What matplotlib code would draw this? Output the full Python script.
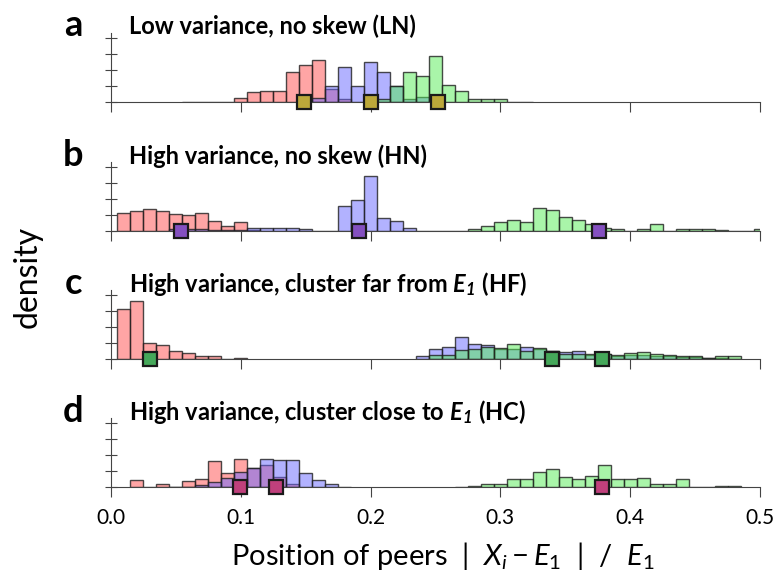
import numpy as np
import matplotlib
matplotlib.use("Agg")
import matplotlib.pyplot as plt

plt.rcParams['font.family'] = ['Lato', 'DejaVu Sans']
plt.rcParams['mathtext.fontset'] = 'custom'
plt.rcParams['mathtext.it'] = 'Lato:italic'
plt.rcParams['mathtext.bf'] = 'Lato:italic:bold'
plt.rcParams['mathtext.rm'] = 'Lato'

# ---- data (bin centres every 0.01, each series given from its first bin) ----
panel_letters = ["a", "b", "c", "d"]
panel_titles = ["Low variance, no skew (LN)",
                "High variance, no skew (HN)",
                "High variance, cluster far from $\\mathbf{E_1}$ (HF)",
                "High variance, cluster close to $\\mathbf{E_1}$ (HC)"]

a_red_start, a_red = 0.06, [0.03, 0, 0, 0, 0.25, 0.6, 0.7, 0.67, 1.9, 2.33, 2.6, 0.8, 0.2]
a_blue_start, a_blue = 0.15, [0.1, 0.25, 0.98, 2.19, 0.98, 2.48, 1.85, 1.0, 0.2, 0.3]
a_green_start, a_green = 0.20, [0.1, 0.2, 1.0, 1.85, 1.65, 2.85, 1.08, 0.7, 0.2, 0.2, 0.2, 0, 0.03]

b_red_start, b_red = 0.01, [1.12, 1.23, 1.35, 1.27, 1.08, 0.98, 1.12, 0.62, 0.3, 0.56, 0.05]
b_blue_start, b_blue = 0.05, [0.1, 0.15, 0.15, 0.05, 0.05, 0.05, 0.2, 0.2, 0.2, 0.2, 0.15, 0.03,
                              0.03, 1.54, 1.96, 3.44, 0.83, 0.62, 0.2, 0.03, 0.03, 0.03, 0.03]
b_green_start, b_green = 0.28, [0.1, 0.3, 0.58, 0.67, 0.58, 1.46, 1.33, 0.88, 0.67, 0.42, 0.2, 0.1,
                                0.03, 0.15, 0.42, 0.03, 0.1, 0.1, 0.1, 0.06, 0.03, 0.03, 0.15]

c_red_start, c_red = 0.01, [3.1, 3.64, 1.0, 0.9, 0.52, 0.4, 0.16, 0.16, 0, 0.05]
c_blue_start, c_blue = 0.24, [0.16, 0.62, 0.72, 1.35, 0.93, 0.85, 0.62, 0.62, 0.72, 0.62, 0.5, 0.42,
                              0.48, 0.27, 0.3, 0.16, 0.27, 0.27, 0.2, 0.16, 0.12, 0.1, 0.05, 0.05, 0.03]
c_green_start, c_green = 0.25, [0.27, 0.27, 0.57, 0.62, 0.78, 0.7, 0.93, 0.53, 0.68, 0.5, 0.33, 0.33,
                                0.33, 0.3, 0.27, 0.37, 0.43, 0.3, 0.23, 0.2, 0.2, 0.08, 0.16, 0.16]

d_red_start, d_red = 0.02, [0.42, 0.03, 0.2, 0.03, 0.35, 0.52, 1.62, 0.9, 1.77, 1.2, 1.35, 0.6, 0.2]
d_blue_start, d_blue = 0.05, [0.03, 0.03, 0.1, 0.3, 0.58, 0.94, 1.2, 1.77, 1.67, 1.67, 0.88, 0.42, 0.2, 0.03]
d_green_start, d_green = 0.27, [0.03, 0.06, 0.2, 0.2, 0.52, 0.52, 0.94, 1.15, 0.65, 0.52, 0.69, 1.38,
                                0.52, 0.52, 0.58, 0.2, 0.2, 0.52, 0.03, 0.03, 0.06, 0.06]

a_markers = [0.149, 0.200, 0.252]
b_markers = [0.054, 0.191, 0.376]
c_markers = [0.030, 0.340, 0.378]
d_markers = [0.099, 0.127, 0.378]

panels = [
    ((a_red_start, a_red), (a_blue_start, a_blue), (a_green_start, a_green), a_markers, "#bca83a"),
    ((b_red_start, b_red), (b_blue_start, b_blue), (b_green_start, b_green), b_markers, "#8450c0"),
    ((c_red_start, c_red), (c_blue_start, c_blue), (c_green_start, c_green), c_markers, "#45a85a"),
    ((d_red_start, d_red), (d_blue_start, d_blue), (d_green_start, d_green), d_markers, "#c0407c"),
]
baselines = [102, 231, 359, 487]  # pixel rows of each zero line
title_rows = [26, 156, 284, 412]

W, H = 775, 582
fig = plt.figure(figsize=(W / 100, H / 100), dpi=100)

x0, x1 = 111, 760
ymax = 4.3
unit_px = 16

face = {"r": (1.0, 0.30, 0.30, 0.5), "b": (0.40, 0.40, 1.0, 0.5), "g": (0.33, 0.93, 0.33, 0.5)}
edge = (0.12, 0.12, 0.12, 0.8)

for i, (red, blue, green, markers, mcol) in enumerate(panels):
    bottom = 1 - baselines[i] / H
    ax = fig.add_axes([x0 / W, bottom, (x1 - x0) / W, ymax * unit_px / H])
    for (start, vals), key in zip([red, blue, green], ["r", "b", "g"]):
        centers = start + 0.01 * np.arange(len(vals))
        ax.bar(centers, vals, width=0.01, facecolor=face[key], edgecolor=edge, linewidth=1.0)
    ax.plot(markers, [0] * len(markers), 's', ms=10, mfc=mcol, mec='#1a1a1a', mew=1.6,
            clip_on=False, zorder=5)
    ax.set_xlim(0, 0.5)
    ax.set_ylim(0, ymax)
    ax.set_yticks([0, 1, 2, 3, 4])
    ax.set_yticklabels([])
    ax.set_xticks(np.arange(0, 0.51, 0.1))
    for s in ["top", "right"]:
        ax.spines[s].set_visible(False)
    for s in ["left", "bottom"]:
        ax.spines[s].set_color("#444444")
    ax.tick_params(axis='y', direction='inout', length=8, color="#444444")
    ax.tick_params(axis='x', direction='out', length=7, color="#444444")
    if i < 3:
        ax.set_xticklabels([])
    else:
        ax.set_xticklabels(["0.0", "0.1", "0.2", "0.3", "0.4", "0.5"], fontsize=15)
        ax.tick_params(axis='x', pad=8)
    fig.text(73 / W, 1 - title_rows[i] / H, panel_letters[i], fontsize=26, fontweight='bold',
             ha='center', va='center')
    fig.text(129 / W, 1 - title_rows[i] / H, panel_titles[i], fontsize=17, fontweight='bold',
             ha='left', va='center')

fig.text(28 / W, 1 - 277 / H, "density", fontsize=23, rotation=90, ha='center', va='center')
fig.text(443 / W, 1 - 556 / H, "Position of peers  |  $X_i - E_1$  |  /  $E_1$", fontsize=21,
         ha='center', va='center')

fig.savefig("out.png", dpi=100)
